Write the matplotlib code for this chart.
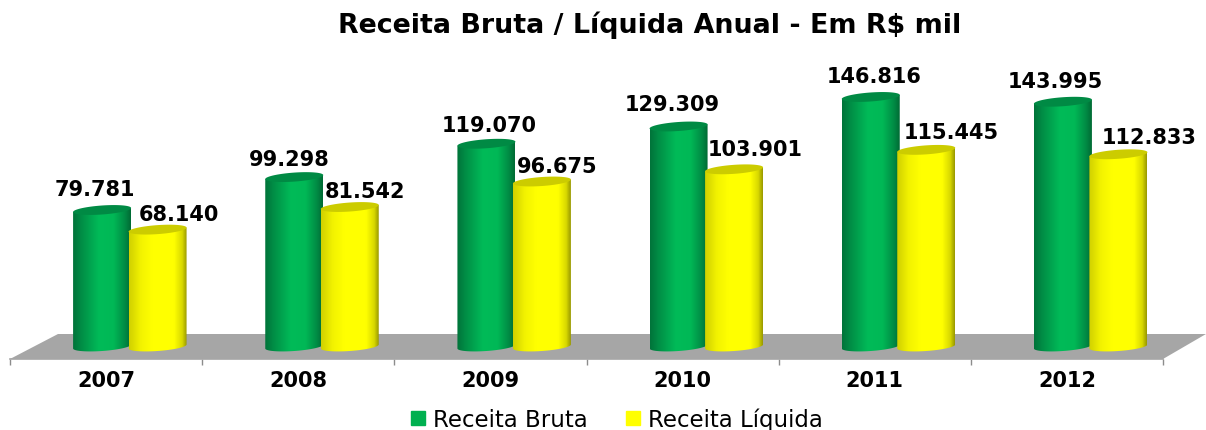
import numpy as np
import matplotlib
matplotlib.use('Agg')
import matplotlib.pyplot as plt
from matplotlib.colors import LinearSegmentedColormap
from matplotlib.patches import Polygon, Patch

years = ['2007', '2008', '2009', '2010', '2011', '2012']
bruta = [79781, 99298, 119070, 129309, 146816, 143995]
liquida = [68140, 81542, 96675, 103901, 115445, 112833]

# manual label nudges in pixels, same as the original placement
bruta_dx = [-7, -5, 3, -6, 3, -8]
bruta_dy = [21, 18, 19, 22, 21, 21]
liquida_dx = [21, 15, 15, 21, 25, 31]
liquida_dy = [16, 16, 16, 20, 18, 17]

W, H = 1206, 431
PX_X = 192.2           # pixels per category
PX_Y = 0.001686        # pixels per value unit
AX_L, AX_R, AX_B, AX_T = 10, 1163, 360, 40
BASE = 345.5           # pixel row of value 0


def sx(px):
    return px / PX_X


def sy(px):
    return px / PX_Y


def cylinder(ax, xc, val, width, cmap, top_color):
    t = np.linspace(0, 2 * np.pi, 120)
    rx = width / 2
    ry = sy(4.5)
    tilt = sy(2.0)
    ex = rx * np.cos(t)
    ey = ry * np.sin(t) + tilt * np.cos(t)

    # body outline: lower half of base ellipse, then up to the top
    lower = t[(t >= np.pi) & (t <= 2 * np.pi)]
    bx = rx * np.cos(lower)
    by = ry * np.sin(lower) + tilt * np.cos(lower) - sy(2)
    outline = np.vstack([
        np.column_stack([xc + bx, by]),
        [[xc + rx, val + tilt], [xc - rx, val - tilt]],
    ])
    clip = Polygon(outline, closed=True, transform=ax.transData, fc='none', ec='none')
    ax.add_patch(clip)

    grad = np.linspace(0, 1, 256).reshape(1, -1)
    im = ax.imshow(grad, cmap=cmap, aspect='auto', zorder=3,
                   extent=(xc - rx, xc + rx, -sy(12), val + sy(8)))
    im.set_clip_path(clip)

    ax.add_patch(Polygon(np.column_stack([xc + ex, val + ey]), closed=True,
                         fc=top_color, ec='none', zorder=3))


green = LinearSegmentedColormap.from_list('g', [(0, '#00733a'), (0.15, '#008e46'), (0.45, '#00bb58'),
                                                (0.7, '#00b856'), (0.9, '#008a44'), (1, '#006a34')])
yellow = LinearSegmentedColormap.from_list('y', [(0, '#d0d000'), (0.2, '#f2f200'), (0.4, '#ffff00'),
                                                 (0.78, '#ffff00'), (0.92, '#d8d800'), (1, '#989800')])

fig = plt.figure(figsize=(W / 100, H / 100), dpi=100, facecolor='white')
ax = fig.add_axes([AX_L / W, 1 - AX_B / H, (AX_R - AX_L) / W, (AX_B - AX_T) / H])
ax.set_facecolor('none')

# floor of the 3d box
floor_h = sy(25)
floor_base = -sy(AX_B - BASE)
ax.add_patch(Polygon([[-0.5, floor_base], [5.5, floor_base],
                      [5.5 + sx(43), floor_base + floor_h], [-0.5 + sx(48), floor_base + floor_h]],
                     closed=True, fc='#a6a6a6', ec='none', clip_on=False, zorder=1))

off_g, off_y = sx(-4), sx(51.5)
bar_w = sx(58)
font = 'DejaVu Sans'

for i in range(len(years)):
    cylinder(ax, i + off_g, bruta[i], bar_w, green, '#008a44')
    cylinder(ax, i + off_y, liquida[i], bar_w, yellow, '#cccc00')
    ax.annotate(f'{bruta[i] / 1000:.3f}', (i + off_g, bruta[i]),
                xytext=(bruta_dx[i] * 0.72, bruta_dy[i] * 0.72), textcoords='offset points',
                ha='center', va='center', fontsize=15, fontweight='bold', family=font, zorder=5)
    ax.annotate(f'{liquida[i] / 1000:.3f}', (i + off_y, liquida[i]),
                xytext=(liquida_dx[i] * 0.72, liquida_dy[i] * 0.72), textcoords='offset points',
                ha='center', va='center', fontsize=15, fontweight='bold', family=font, zorder=5)

ax.set_xlim(-0.5, 5.5)
ax.set_ylim(floor_base, floor_base + sy(AX_B - AX_T))

ax.set_xticks(np.arange(-0.5, 6, 1))
ax.set_xticklabels([])
ax.set_xticks(np.arange(6), labels=years, minor=True)
ax.tick_params(axis='x', which='major', length=4.5, width=1, color='#8c8c8c')
ax.tick_params(axis='x', which='minor', length=0, pad=8)
for lab in ax.get_xticklabels(minor=True):
    lab.set_fontsize(15)
    lab.set_fontweight('bold')
    lab.set_family(font)
ax.set_yticks([])
for side in ['top', 'left', 'right']:
    ax.spines[side].set_visible(False)
ax.spines['bottom'].set_color('#a6a6a6')
ax.spines['bottom'].set_linewidth(1.2)

fig.text(650 / W, 1 - 25 / H, 'Receita Bruta / Líquida Anual - Em R$ mil', ha='center', va='center',
         fontsize=19.4, fontweight='bold', family=font)

fig.legend(handles=[Patch(color='#00b050', label='Receita Bruta'), Patch(color='#ffff00', label='Receita Líquida')],
           loc='center', bbox_to_anchor=(617 / W, 1 - 420 / H), ncol=2, frameon=False,
           prop={'family': font, 'size': 16.5}, handlelength=0.58, handleheight=0.58,
           handletextpad=0.35, columnspacing=1.7)

fig.savefig('out.png', dpi=100, facecolor='white')
